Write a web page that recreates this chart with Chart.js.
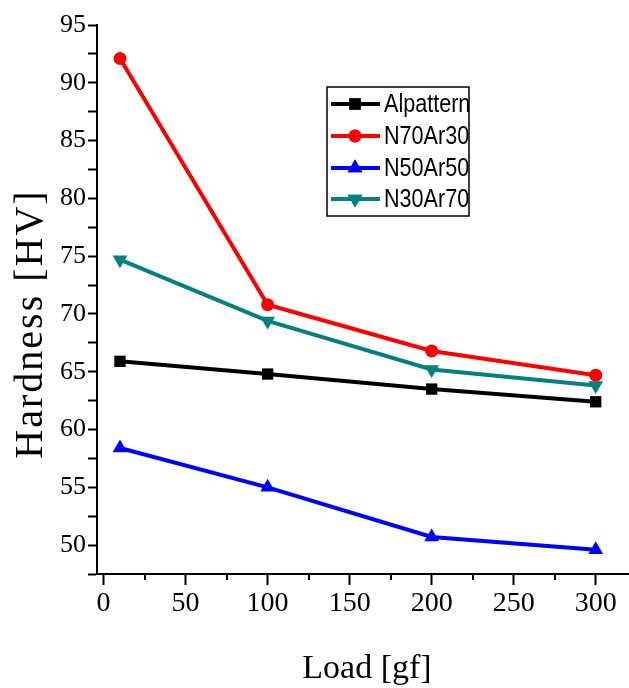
<!DOCTYPE html>
<html>
<head>
<meta charset="utf-8">
<script src="https://cdn.jsdelivr.net/npm/chart.js@4/dist/chart.umd.min.js"></script>
<style>
  html, body { margin: 0; padding: 0; background: #fff; }
  canvas { display: block; }
</style>
</head>
<body>
<canvas id="canvas" width="629" height="688"></canvas>
<script>
// data
const loads = [10, 100, 200, 300];
const alpattern = [65.9, 64.8, 63.5, 62.4];
const n70ar30 = [92.1, 70.8, 66.8, 64.7];
const n50ar50 = [58.4, 55.0, 50.7, 49.6];
const n30ar70 = [74.7, 69.4, 65.2, 63.8];

const seriesNames = ['Alpattern', 'N70Ar30', 'N50Ar50', 'N30Ar70'];
const xTickLabels = [0, 50, 100, 150, 200, 250, 300];
const yTickLabels = [50, 55, 60, 65, 70, 75, 80, 85, 90, 95];

const X_MIN = -4, X_MAX = 320.3;
const Y_MIN = 47.5, Y_MAX = 95;

// majors plus a minor tick half way between them
function withMinors(majors, addBelow) {
    const step = majors[1] - majors[0];
    const out = [];
    if (addBelow) out.push(majors[0] - step / 2);
    majors.forEach(v => { out.push(v); out.push(v + step / 2); });
    return out;
}
const xTickValues = withMinors(xTickLabels, false).filter(v => v <= X_MAX);
const yTickValues = withMinors(yTickLabels, true).filter(v => v <= Y_MAX);

// legend box, axis titles and the short x minor ticks drawn by hand
const extras = {
    id: 'extras',
    afterDraw(chart) {
        const ctx = chart.ctx;
        const xs = chart.scales.x;
        ctx.save();
        ctx.fillStyle = '#000';

        // x minor ticks (shorter than the major ones)
        ctx.strokeStyle = '#000';
        ctx.lineWidth = 2;
        xTickValues.filter(v => !xTickLabels.includes(v)).forEach(v => {
            const px = Math.round(xs.getPixelForValue(v));
            ctx.beginPath();
            ctx.moveTo(px, xs.top);
            ctx.lineTo(px, xs.top + 6);
            ctx.stroke();
        });

        // y title
        ctx.save();
        ctx.translate(42, 324);
        ctx.rotate(-Math.PI / 2);
        ctx.font = '40px "Liberation Serif"';
        ctx.letterSpacing = '2px';
        ctx.textAlign = 'center';
        ctx.textBaseline = 'alphabetic';
        ctx.fillText('Hardness [HV]', 0, 0);
        ctx.restore();

        // x title
        ctx.font = '34px "Liberation Serif"';
        ctx.textAlign = 'center';
        ctx.textBaseline = 'alphabetic';
        ctx.fillText('Load [gf]', 367, 678);

        // legend
        ctx.strokeStyle = '#000';
        ctx.lineWidth = 1.5;
        ctx.strokeRect(327, 87, 142, 129);
        const rowY = [104, 136, 168, 199];
        chart.data.datasets.forEach((ds, i) => {
            const y = rowY[i];
            ctx.strokeStyle = ds.borderColor;
            ctx.lineWidth = 4;
            ctx.beginPath();
            ctx.moveTo(331, y);
            ctx.lineTo(380, y);
            ctx.stroke();
            ctx.fillStyle = ds.borderColor;
            Chart.helpers.drawPoint(ctx, {
                pointStyle: ds.pointStyle,
                rotation: ds.pointRotation || 0,
                radius: ds.pointRadius,
                borderWidth: 0
            }, 355, y);
            ctx.fill();
            ctx.save();
            ctx.fillStyle = '#000';
            ctx.font = '26px "Liberation Sans"';
            ctx.textAlign = 'left';
            ctx.textBaseline = 'middle';
            ctx.translate(384, y + 1);
            ctx.scale(0.83, 1);
            ctx.fillText(ds.label, 0, 0);
            ctx.restore();
        });
        ctx.restore();
    }
};

function makeSet(label, values, color, style, radius, rotation) {
    return {
        label: label,
        data: loads.map((x, i) => ({ x: x, y: values[i] })),
        borderColor: color,
        backgroundColor: color,
        borderWidth: 4,
        pointStyle: style,
        pointRadius: radius,
        pointRotation: rotation || 0,
        pointBorderWidth: 0,
        pointBackgroundColor: color,
        tension: 0
    };
}

const ctx = document.getElementById('canvas').getContext('2d');
const myChart = new Chart(ctx, {
    type: 'line',
    data: {
        datasets: [
            makeSet(seriesNames[0], alpattern, '#000000', 'rect', 8),
            makeSet(seriesNames[1], n70ar30, '#ff0000', 'circle', 6.5),
            makeSet(seriesNames[2], n50ar50, '#0000ff', 'triangle', 8.5),
            makeSet(seriesNames[3], n30ar70, '#008080', 'triangle', 8.5, 180)
        ]
    },
    options: {
        responsive: false,
        animation: false,
        layout: { autoPadding: false, padding: { top: 25, right: 0, left: 0, bottom: 0 } },
        plugins: {
            legend: { display: false },
            tooltip: { enabled: false }
        },
        scales: {
            x: {
                type: 'linear',
                min: X_MIN,
                max: X_MAX,
                afterBuildTicks: s => { s.ticks = xTickValues.map(v => ({ value: v })); },
                afterFit: s => { s.height = 114; },
                border: { display: true, color: '#000', width: 2 },
                grid: {
                    drawOnChartArea: false, drawTicks: true, tickLength: 11, tickWidth: 2,
                    tickColor: c => (c.tick && xTickLabels.includes(c.tick.value)) ? '#000' : 'rgba(0,0,0,0)'
                },
                ticks: {
                    color: '#000',
                    font: { family: 'Liberation Serif', size: 28 },
                    padding: 2,
                    maxRotation: 0,
                    autoSkip: false,
                    callback: v => xTickLabels.includes(v) ? String(v) : ''
                }
            },
            y: {
                type: 'linear',
                min: Y_MIN,
                max: Y_MAX,
                afterBuildTicks: s => { s.ticks = yTickValues.map(v => ({ value: v })); },
                afterFit: s => { s.width = 97; },
                border: { display: true, color: '#000', width: 2 },
                grid: { drawOnChartArea: false, drawTicks: true, tickLength: 9, tickColor: '#000', tickWidth: 2 },
                ticks: {
                    color: '#000',
                    font: { family: 'Liberation Serif', size: 26 },
                    padding: 2,
                    autoSkip: false,
                    callback: v => yTickLabels.includes(v) ? String(v) : ''
                }
            }
        }
    },
    plugins: [extras]
});
</script>
</body>
</html>
